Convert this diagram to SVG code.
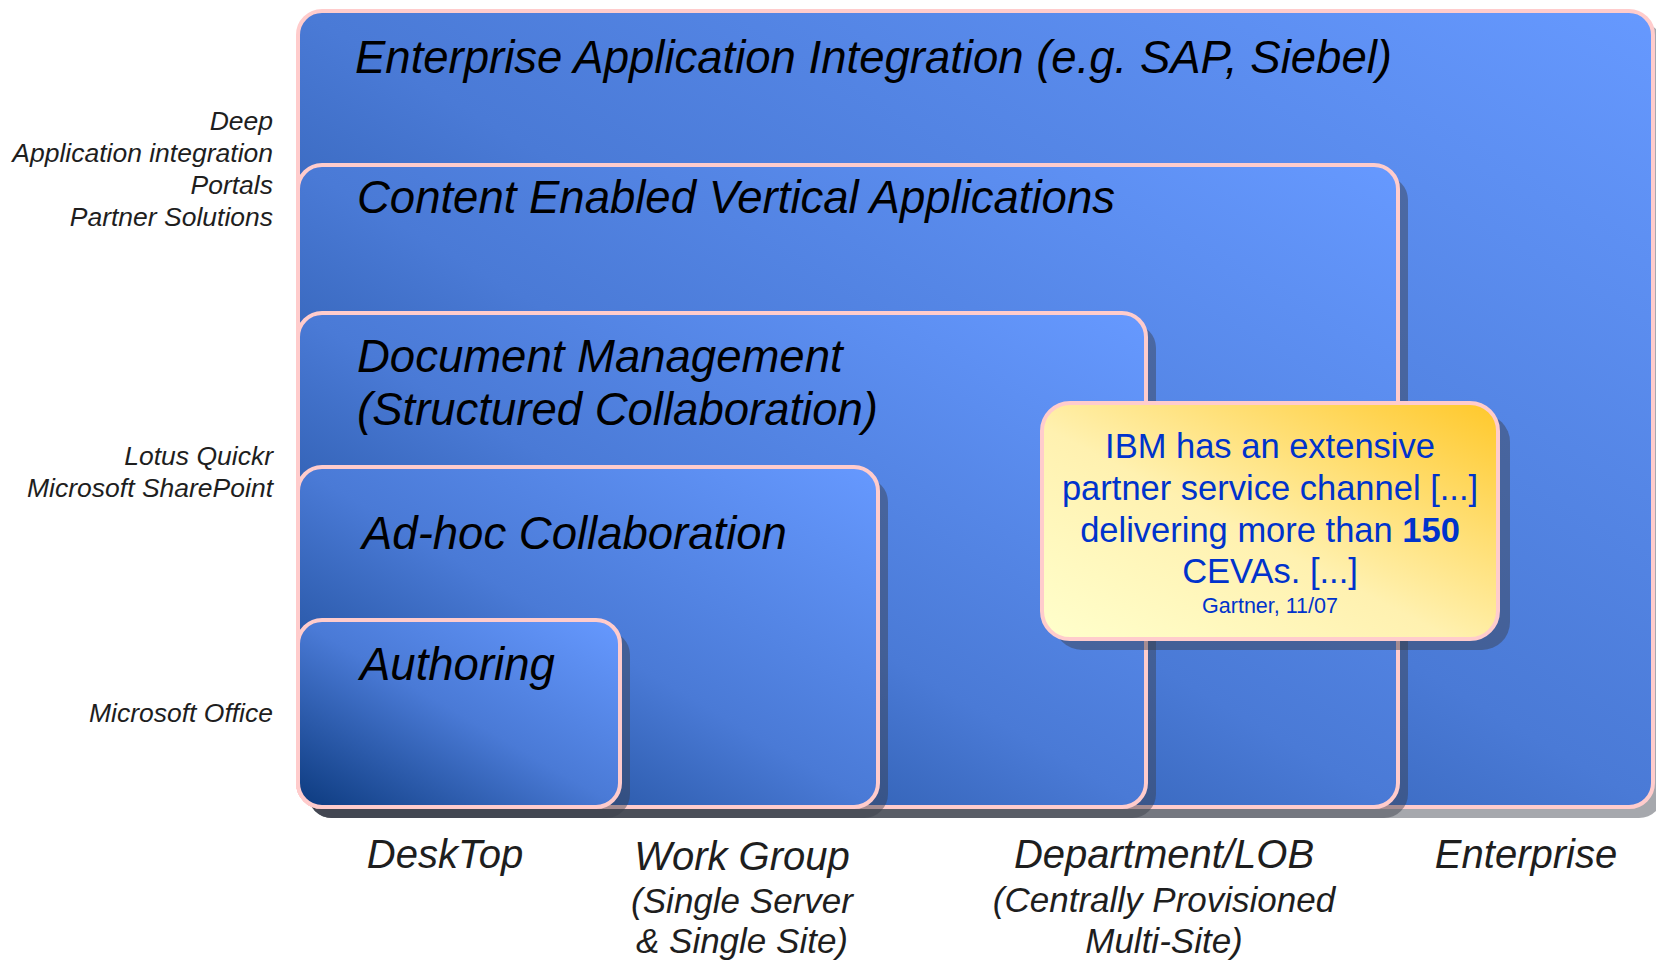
<svg xmlns="http://www.w3.org/2000/svg" width="1656" height="960" viewBox="0 0 1656 960">
<defs>
<linearGradient id="blue" x1="0" y1="1" x2="1" y2="0">
<stop offset="0" stop-color="#0c3a7e"/>
<stop offset="0.5" stop-color="#4a7ad6"/>
<stop offset="1" stop-color="#6699ff"/>
</linearGradient>
<linearGradient id="gold" x1="0" y1="1" x2="1" y2="0">
<stop offset="0" stop-color="#ffffcc"/>
<stop offset="0.45" stop-color="#fff1b0"/>
<stop offset="1" stop-color="#ffc82a"/>
</linearGradient>
<style>
.box{fill:url(#blue);stroke:#ffcccc;stroke-width:4}
.shd{fill:#3a3f4a;opacity:0.45}
.ttl{font-family:"Liberation Sans",Arial,sans-serif;font-style:italic;font-size:45.5px;fill:#000}
.side{font-family:"Liberation Sans",Arial,sans-serif;font-style:italic;font-size:26.5px;fill:#1e1e1e;text-anchor:end}
.axis{font-family:"Liberation Sans",Arial,sans-serif;font-style:italic;font-size:40px;fill:#1e1e1e;text-anchor:middle}
.axs{font-size:35px}
.note{font-family:"Liberation Sans",Arial,sans-serif;font-size:34.5px;fill:#0033cc;text-anchor:middle}
.src{font-size:21.5px}
</style>
</defs>
<rect width="1656" height="960" fill="#ffffff"/>

<g id="enterprise">
<rect class="shd" x="308" y="22" width="1355" height="796" rx="24"/>
<rect class="box" x="298" y="11" width="1355" height="796" rx="24"/>
<text class="ttl" x="355" y="73">Enterprise Application Integration (e.g. SAP, Siebel)</text>
</g>

<g id="ceva">
<rect class="shd" x="308" y="176" width="1100" height="642" rx="24"/>
<rect class="box" x="298" y="165" width="1100" height="642" rx="24"/>
<text class="ttl" x="357" y="213">Content Enabled Vertical Applications</text>
</g>

<g id="docmgmt">
<rect class="shd" x="308" y="324" width="848" height="494" rx="24"/>
<rect class="box" x="298" y="313" width="848" height="494" rx="24"/>
<text class="ttl" x="357" y="372">Document Management</text>
<text class="ttl" x="357" y="425">(Structured Collaboration)</text>
</g>

<g id="adhoc">
<rect class="shd" x="308" y="478" width="580" height="340" rx="24"/>
<rect class="box" x="298" y="467" width="580" height="340" rx="24"/>
<text class="ttl" x="362" y="549">Ad-hoc Collaboration</text>
</g>

<g id="authoring">
<rect class="shd" x="308" y="631" width="322" height="187" rx="24"/>
<rect class="box" x="298" y="620" width="322" height="187" rx="24"/>
<text class="ttl" x="360" y="680">Authoring</text>
</g>

<g id="callout">
<rect class="shd" x="1054" y="414" width="456" height="236" rx="28"/>
<rect x="1042" y="403" width="456" height="236" rx="28" fill="url(#gold)" stroke="#ffcccc" stroke-width="4"/>
<text class="note" x="1270" y="458">IBM has an extensive</text>
<text class="note" x="1270" y="500">partner service channel [...]</text>
<text class="note" x="1270" y="542">delivering more than <tspan font-weight="bold">150</tspan></text>
<text class="note" x="1270" y="583">CEVAs. [...]</text>
<text class="note src" x="1270" y="613">Gartner, 11/07</text>
</g>

<g id="side-labels">
<text class="side" x="273" y="130">Deep</text>
<text class="side" x="273" y="162">Application integration</text>
<text class="side" x="273" y="194">Portals</text>
<text class="side" x="273" y="226">Partner Solutions</text>
<text class="side" x="273" y="465">Lotus Quickr</text>
<text class="side" x="273" y="497">Microsoft SharePoint</text>
<text class="side" x="273" y="722">Microsoft Office</text>
</g>

<g id="axis-labels">
<text class="axis" x="445" y="868">DeskTop</text>
<text class="axis" x="742" y="870">Work Group</text>
<text class="axis axs" x="742" y="913">(Single Server</text>
<text class="axis axs" x="742" y="953">&amp; Single Site)</text>
<text class="axis" x="1164" y="868">Department/LOB</text>
<text class="axis axs" x="1164" y="912">(Centrally Provisioned</text>
<text class="axis axs" x="1164" y="953">Multi-Site)</text>
<text class="axis" x="1526" y="868">Enterprise</text>
</g>

<g id="connectors"></g>
</svg>
